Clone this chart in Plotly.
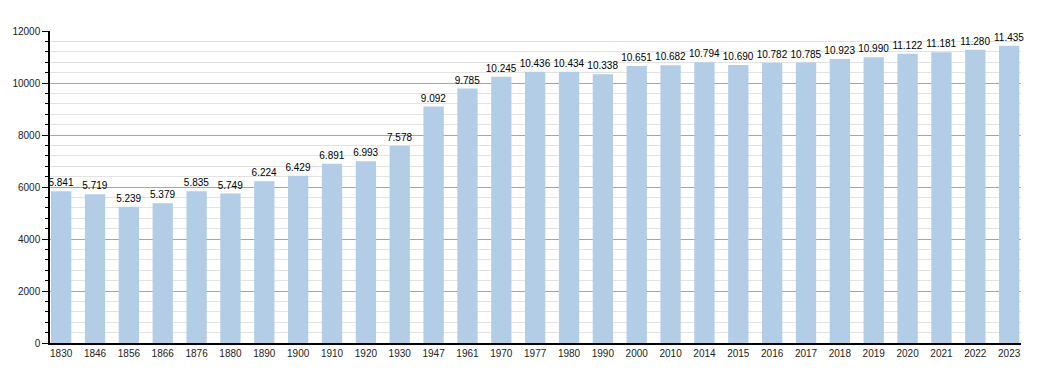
import plotly.graph_objects as go

years = ["1830", "1846", "1856", "1866", "1876", "1880", "1890", "1900", "1910", "1920",
         "1930", "1947", "1961", "1970", "1977", "1980", "1990", "2000", "2010", "2014",
         "2015", "2016", "2017", "2018", "2019", "2020", "2021", "2022", "2023"]
population = [5841, 5719, 5239, 5379, 5835, 5749, 6224, 6429, 6891, 6993,
              7578, 9092, 9785, 10245, 10436, 10434, 10338, 10651, 10682, 10794,
              10690, 10782, 10785, 10923, 10990, 11122, 11181, 11280, 11435]
labels = [f"{v:,}".replace(",", ".") for v in population]

fig = go.Figure(go.Bar(
    x=years, y=population, text=labels, textposition="outside",
    constraintext="none",
    textfont=dict(size=10, color="#000000", family="Liberation Sans, Arial, sans-serif"),
    marker=dict(color="#b3cde6", line=dict(width=0)),
    width=0.6, cliponaxis=False, hoverinfo="x+y",
))

fig.update_layout(
    width=1050, height=372,
    margin=dict(l=50, r=29, t=31, b=29, autoexpand=False),
    paper_bgcolor="white", plot_bgcolor="white",
    font=dict(family="Liberation Sans, Arial, sans-serif", size=10, color="#222222"),
    showlegend=False,
    xaxis=dict(
        type="category", range=[-0.33, 28.35], showgrid=False, automargin=False,
        showline=True, linecolor="#000000", linewidth=1.5,
        ticks="", tickfont=dict(size=10, color="#222222"),
    ),
    yaxis=dict(
        range=[0, 12000], dtick=2000, tickformat="d", automargin=False,
        showgrid=True, gridcolor="#a6a6a6", gridwidth=1,
        zeroline=False, showline=True, linecolor="#000000", linewidth=1.5,
        ticks="outside", ticklen=6, tickcolor="#000000", tickwidth=1,
        tickfont=dict(size=10, color="#222222"),
        minor=dict(dtick=400, showgrid=True, gridcolor="#e3e3e3", gridwidth=1,
                   ticks="outside", ticklen=3, tickcolor="#000000"),
    ),
)

fig.write_html("out.html", post_script="document.body.style.margin='0';",
               config={"displayModeBar": False})
